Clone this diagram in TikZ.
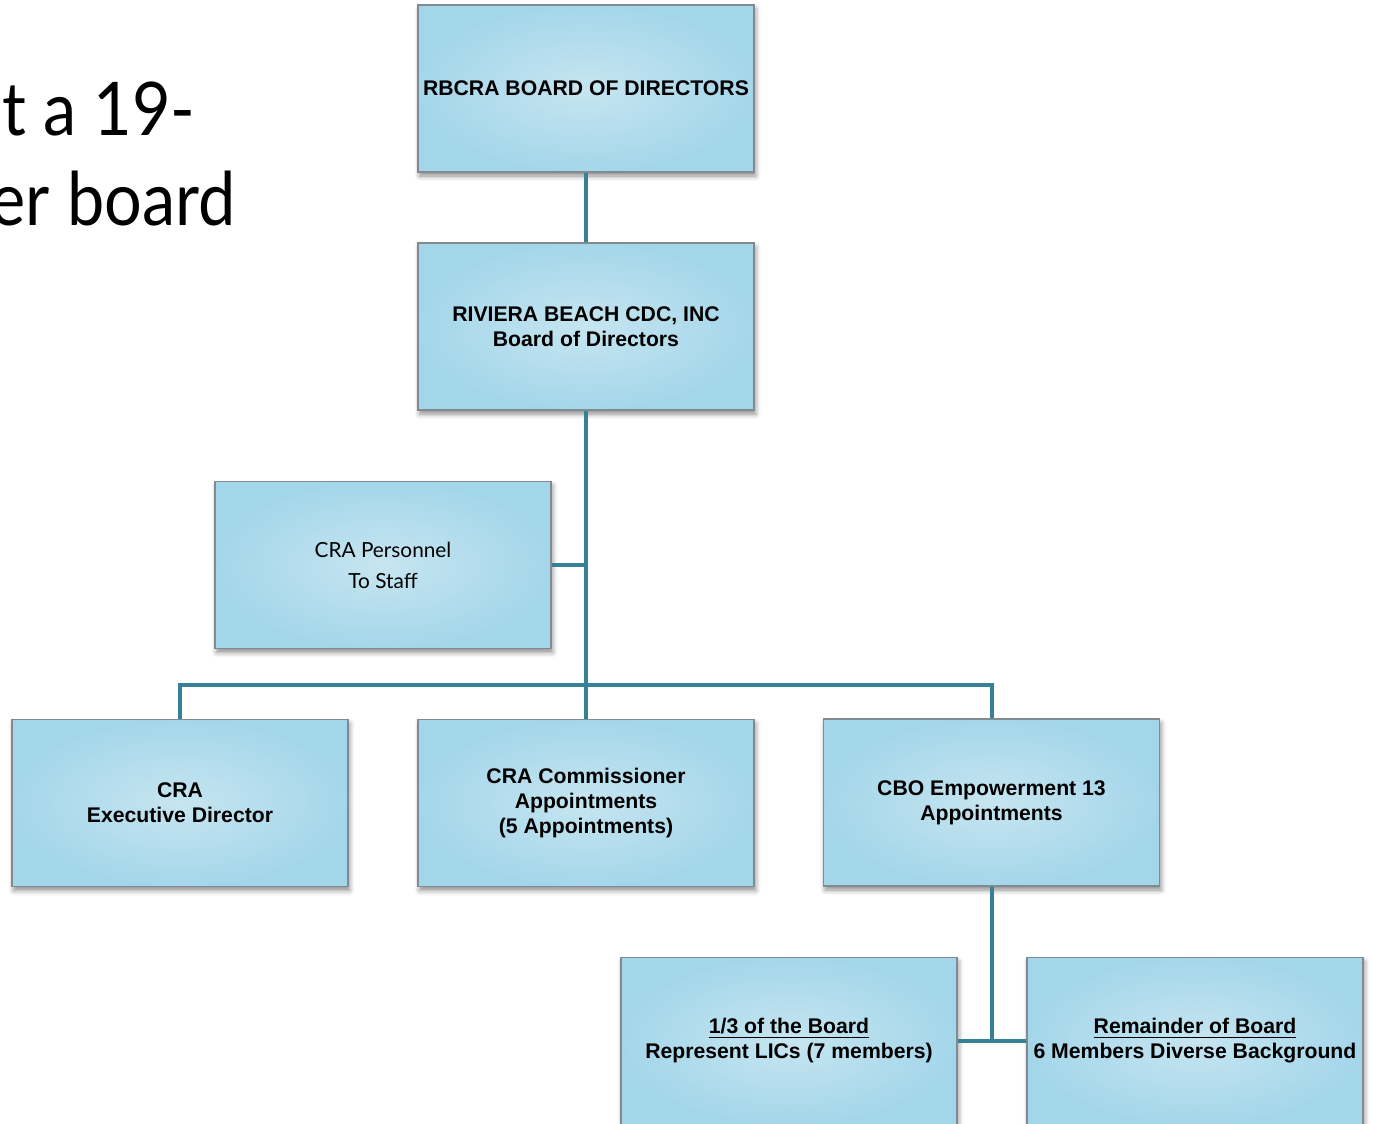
\documentclass[tikz,border=0pt]{standalone}
\usepackage{fontspec}
\setmainfont{Liberation Sans}
\newfontfamily\gillfont{Lato}
\newfontfamily\gilltitle[FakeStretch=0.9]{Lato}
\usepackage{tikz}
\usetikzlibrary{shadows.blur}
\definecolor{orgBlueIn}{RGB}{198, 229, 240}
\definecolor{orgBlueOut}{RGB}{164, 214, 234}
\definecolor{orgEdge}{RGB}{128, 138, 144}
\definecolor{orgLink}{RGB}{54, 129, 150}

\begin{document}
\begin{tikzpicture}[x=0.5pt, y=-0.5pt,
    orgbox/.style={draw=orgEdge, line width=0.6pt, shading=radial, inner color=orgBlueIn, outer color=orgBlueOut,
        minimum width=168pt, minimum height=83.5pt, align=center, inner sep=1pt,
        font=\fontsize{10.6}{12.5}\selectfont\bfseries,
        blur shadow={shadow xshift=0.8pt, shadow yshift=-2pt, shadow blur radius=2.5pt, shadow opacity=45}},
    link/.style={draw=orgLink, line width=2pt}]
    \useasboundingbox (0,0) rectangle (1373,1124);
    \clip (0,0) rectangle (1373,1124);
    % title, cut at the left edge
    \node[anchor=base east, inner sep=0pt, font=\gilltitle\fontsize{37}{37}\selectfont] (title1) at (196,135) {t a 19-};
    \node[anchor=base east, inner sep=0pt, font=\gilltitle\fontsize{37}{37}\selectfont] (title2) at (236,225) {er board};
    % boxes
    \node[orgbox] (rbcra) at (586,88.5) {RBCRA BOARD OF DIRECTORS};
    \node[orgbox] (cdc) at (586,326.5) {RIVIERA BEACH CDC, INC\\Board of Directors};
    \node[orgbox, font=\gillfont\fontsize{10.4}{15.5}\selectfont] (staff) at (383,565) {CRA Personnel\\To Staff};
    \node[orgbox] (exec) at (180,803) {CRA\\Executive Director};
    \node[orgbox] (comm) at (586,803) {CRA Commissioner\\Appointments\\(5 Appointments)};
    \node[orgbox] (cbo) at (991.5,802.5) {CBO Empowerment 13\\Appointments};
    \node[orgbox] (lic) at (789,1041) {\underline{1/3 of the Board}\\Represent LICs (7 members)};
    \node[orgbox] (rem) at (1195,1041) {\underline{Remainder of Board}\\6 Members Diverse Background};
    \coordinate (bus) at (586,685);
    % connectors
    \draw[link] (rbcra) -- (cdc);
    \draw[link] (cdc) -- (comm);
    \draw[link] (staff.east) -- (staff.east -| bus);
    \draw[link] (exec.north) |- (bus) -| (cbo.north);
    \draw[link] (cbo.south) -- (cbo.south |- lic.east);
    \draw[link] (lic.east) -- (rem.west);
\end{tikzpicture}
\end{document}
